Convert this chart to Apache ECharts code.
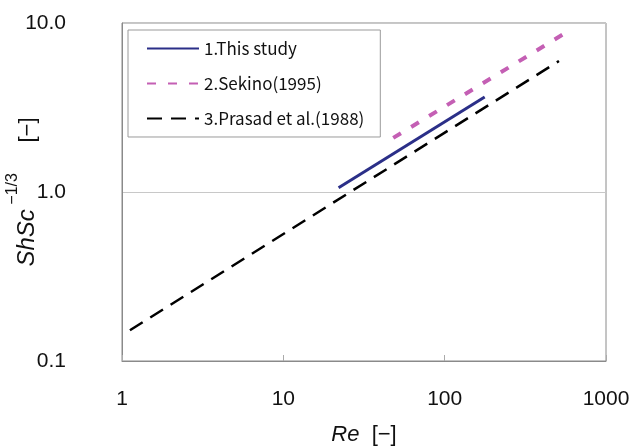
<!DOCTYPE html>
<html>
<head>
<meta charset="utf-8">
<script src="https://cdn.jsdelivr.net/npm/echarts@6/dist/echarts.min.js"></script>
<style>
  html, body { margin: 0; padding: 0; background: #fff; }
  #chart { width: 631px; height: 448px; }
</style>
</head>
<body>
<div id="chart"></div>
<script>
  // end points, [Re, ShSc^-1/3]
  const thisStudy = [[22, 1.06], [177, 3.65]];
  const sekino = [[48, 2.09], [573, 8.85]];
  const prasad = [[1.12, 0.152], [511, 5.96]];

  const seriesNames = ["1.This study", "2.Sekino(1995)", "3.Prasad et al.(1988)"];

  const axisFont = "Liberation Sans";
  const chart = echarts.init(document.getElementById("chart"));

  chart.setOption({
    animation: false,
    backgroundColor: "#fff",
    grid: {
      left: 122,
      right: 25,
      top: 23,
      bottom: 87,
      outerBoundsMode: "none",
      show: true,
      borderColor: "#8a8a8a",
      borderWidth: 1
    },
    legend: {
      orient: "vertical",
      left: 128,
      top: 30,
      itemWidth: 52,
      itemHeight: 12,
      itemGap: 18,
      padding: [10, 16, 10, 18],
      backgroundColor: "#fff",
      borderColor: "#9a9a9a",
      borderWidth: 1,
      borderRadius: 0,
      itemStyle: { opacity: 0 },
      textStyle: { fontFamily: "Noto Sans CJK JP", fontSize: 17, color: "#111" },
      data: seriesNames
    },
    xAxis: {
      type: "log",
      logBase: 10,
      min: 1,
      max: 1000,
      name: "{i|Re}  [−]",
      nameLocation: "middle",
      nameGap: 63,
      nameMoveOverlap: false,
      nameTextStyle: {
        fontFamily: axisFont, fontSize: 22, color: "#111",
        rich: { i: { fontStyle: "italic", fontFamily: axisFont, fontSize: 22, color: "#111" } }
      },
      axisLine: { lineStyle: { color: "#8a8a8a" } },
      axisTick: { inside: true, length: 6, lineStyle: { color: "#aaa" } },
      minorTick: { show: false },
      axisLabel: {
        margin: 28,
        fontFamily: axisFont, fontSize: 21, color: "#111",
        formatter: v => String(Math.round(v))
      },
      splitLine: { show: false }
    },
    yAxis: {
      type: "log",
      logBase: 10,
      min: 0.1,
      max: 10,
      name: "{i|ShSc}{s| −1/3}     {b|[−]}",
      nameLocation: "middle",
      nameRotate: 90,
      nameGap: 83,
      nameMoveOverlap: false,
      nameTextStyle: {
        fontFamily: axisFont, fontSize: 22, color: "#111",
        rich: {
          i: { fontStyle: "italic", fontFamily: axisFont, fontSize: 24, color: "#111", lineHeight: 34, verticalAlign: "bottom" },
          s: { fontFamily: axisFont, fontSize: 16, color: "#111", verticalAlign: "top", lineHeight: 34 },
          b: { fontFamily: axisFont, fontSize: 22, color: "#111", lineHeight: 34, verticalAlign: "bottom" }
        }
      },
      axisLine: { lineStyle: { color: "#8a8a8a" } },
      axisTick: { show: false },
      axisLabel: {
        margin: 56,
        fontFamily: axisFont, fontSize: 21, color: "#111",
        formatter: v => v.toFixed(1)
      },
      splitLine: { show: true, lineStyle: { color: "#c8c8c8", width: 1 } }
    },
    series: [
      {
        name: seriesNames[0],
        type: "line",
        data: thisStudy,
        symbol: "none",
        lineStyle: { color: "#2b2f88", width: 3, type: "solid" },
        itemStyle: { color: "#2b2f88" },
        z: 3
      },
      {
        name: seriesNames[1],
        type: "line",
        data: sekino,
        symbol: "none",
        lineStyle: { color: "#c45fb4", width: 4, type: [9, 12] },
        itemStyle: { color: "#c45fb4" },
        z: 2
      },
      {
        name: seriesNames[2],
        type: "line",
        data: prasad,
        symbol: "none",
        lineStyle: { color: "#000", width: 2.5, type: [15, 9] },
        itemStyle: { color: "#000" },
        z: 2
      }
    ]
  });
</script>
</body>
</html>
